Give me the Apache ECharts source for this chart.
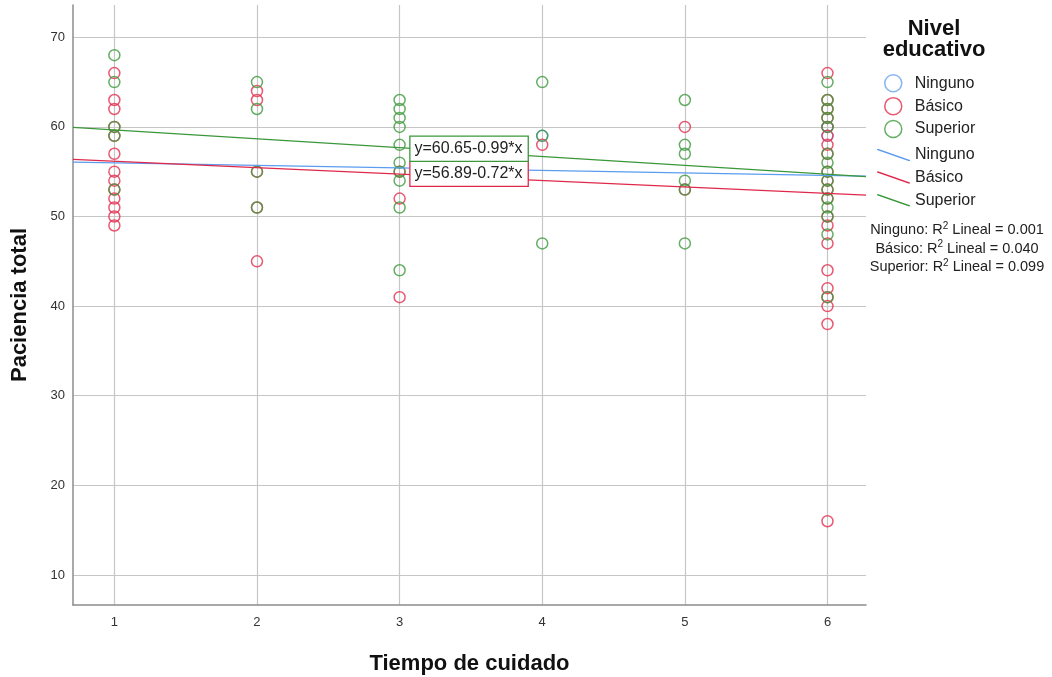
<!DOCTYPE html>
<html><head><meta charset="utf-8">
<script src="https://cdn.jsdelivr.net/npm/echarts@6/dist/echarts.min.js"></script>
<style>html,body{margin:0;padding:0;background:#fff}#c{width:1052px;height:677px}</style>
</head><body><div id="c"></div>
<script>
// ---- data ----
const groupNames = ['Ninguno', 'Básico', 'Superior'];
const xTickLabels = ['1', '2', '3', '4', '5', '6'];
const yTickLabels = ['10', '20', '30', '40', '50', '60', '70'];
const ningunoPoints = [[4,59],[6,59],[6,60]];
const basicoPoints = [
  [1,66],[1,63],[1,62],[1,60],[1,59],[1,57],[1,55],[1,54],[1,53],[1,52],[1,51],[1,50],[1,49],
  [2,64],[2,63],[2,55],[2,51],[2,45],
  [3,55],[3,52],[3,41],
  [4,58],
  [5,60],[5,53],
  [6,66],[6,63],[6,62],[6,61],[6,60],[6,59],[6,58],[6,57],[6,55],[6,54],[6,53],[6,52],[6,50],[6,49],[6,47],[6,44],[6,42],[6,41],[6,40],[6,38],[6,16]
];
const superiorPoints = [
  [1,68],[1,65],[1,60],[1,59],[1,53],
  [2,65],[2,62],[2,55],[2,51],
  [3,63],[3,62],[3,61],[3,60],[3,58],[3,56],[3,55],[3,54],[3,51],[3,44],
  [4,65],[4,59],[4,47],
  [5,63],[5,58],[5,57],[5,54],[5,53],[5,47],
  [6,65],[6,63],[6,62],[6,61],[6,60],[6,57],[6,56],[6,55],[6,54],[6,53],[6,52],[6,51],[6,50],[6,48],[6,41]
];
const fitIntercepts = [56.26, 56.89, 60.65];
const fitSlopes = [-0.28, -0.72, -0.99];
const r2Values = ['0.001', '0.040', '0.099'];

// ---- styling ----
const FONT = '"Liberation Sans", Arial, sans-serif';
const pointColors = ['#6aa3ef', '#e3304f', '#3d9a3d'];
const lineColors = ['#5b9cf0', '#e0284a', '#3a973a'];
const X_MIN = 0.71, X_MAX = 6.27, Y_MIN = 6.65, Y_MAX = 73.6;

const pointSets = [ningunoPoints, basicoPoints, superiorPoints];
const series = [];
pointSets.forEach((pts, i) => {
  series.push({
    name: groupNames[i], type: 'scatter', data: pts, symbol: 'circle', symbolSize: 11,
    itemStyle: { color: 'rgba(255,255,255,0)', borderColor: pointColors[i], borderWidth: 1.5, opacity: 0.8 },
    emphasis: { disabled: true }, z: 3
  });
});
const eqLabelCoords = [null, [3.08, 56.06], [3.08, 58.85]];
groupNames.forEach((g, i) => {
  const s = {
    name: g + ' ', type: 'line', showSymbol: false, symbol: 'none', silent: true,
    data: [[X_MIN, fitIntercepts[i] + fitSlopes[i] * X_MIN], [X_MAX, fitIntercepts[i] + fitSlopes[i] * X_MAX]],
    lineStyle: { color: lineColors[i], width: 1.3 }, itemStyle: { color: lineColors[i] }, z: 4
  };
  if (eqLabelCoords[i]) {
    const txt = 'y=' + fitIntercepts[i].toFixed(2) + (fitSlopes[i] < 0 ? '-' : '+') + Math.abs(fitSlopes[i]).toFixed(2) + '*x';
    s.markPoint = {
      symbol: 'rect', symbolSize: 1, silent: true, animation: false,
      itemStyle: { color: 'rgba(0,0,0,0)' },
      data: [{ coord: eqLabelCoords[i], value: txt }],
      label: {
        show: true, position: [0, 0], align: 'left', verticalAlign: 'top',
        formatter: txt, fontFamily: FONT, fontSize: 16, color: '#222',
        backgroundColor: '#fff', borderColor: lineColors[i], borderWidth: 1.3,
        padding: [3, 5, 3, 4], lineHeight: 18
      }
    };
  }
  series.push(s);
});

const r2Graphics = groupNames.map((g, i) => ({
  type: 'text', x: 957, y: 230 + i * 18.7, silent: true,
  style: {
    text: '{t|' + g + ': R}{s|2}{t| Lineal = ' + r2Values[i] + '}',
    align: 'center', verticalAlign: 'middle', fontFamily: FONT, fontSize: 14.5, fill: '#222',
    rich: {
      t: { fontSize: 14.5, fontFamily: FONT, fill: '#222', align: 'center' },
      s: { fontSize: 10, fontFamily: FONT, fill: '#222', align: 'center', padding: [0, 0, 8, 0] }
    }
  }
}));

const chart = echarts.init(document.getElementById('c'), null, { renderer: 'canvas' });
chart.setOption({
  animation: false,
  backgroundColor: '#fff',
  title: {
    text: 'Nivel\neducativo', left: 929, top: 13, textAlign: 'center',
    textStyle: { fontFamily: FONT, fontSize: 22, fontWeight: 'bold', color: '#111', lineHeight: 21 }
  },
  grid: { left: 73, right: 186, top: 5, bottom: 72, containLabel: false, outerBoundsMode: 'none' },
  xAxis: {
    type: 'value', min: X_MIN, max: X_MAX, minInterval: 1, maxInterval: 1,
    name: 'Tiempo de cuidado', nameLocation: 'middle', nameGap: 48,
    nameTextStyle: { fontFamily: FONT, fontSize: 22, fontWeight: 'bold', color: '#111' },
    axisLine: { show: true, onZero: false, lineStyle: { color: '#8c8c8c', width: 1.5 } },
    axisTick: { show: false },
    axisLabel: { showMinLabel: false, showMaxLabel: false, margin: 11, fontFamily: FONT, fontSize: 13, color: '#333',
      formatter: v => xTickLabels.includes(String(v)) ? String(v) : '' },
    splitLine: { show: true, showMinLine: false, showMaxLine: false, lineStyle: { color: '#c6c6c6', width: 1.2 } }
  },
  yAxis: {
    type: 'value', min: Y_MIN, max: Y_MAX, minInterval: 10, maxInterval: 10,
    name: 'Paciencia total', nameLocation: 'middle', nameGap: 42, nameRotate: 90,
    nameTextStyle: { fontFamily: FONT, fontSize: 22, fontWeight: 'bold', color: '#111' },
    axisLine: { show: true, onZero: false, lineStyle: { color: '#8c8c8c', width: 1.5 } },
    axisTick: { show: false },
    axisLabel: { showMinLabel: false, showMaxLabel: false, margin: 8, fontFamily: FONT, fontSize: 13, color: '#333',
      formatter: v => yTickLabels.includes(String(v)) ? String(v) : '' },
    splitLine: { show: true, showMinLine: false, showMaxLine: false, lineStyle: { color: '#c6c6c6', width: 1.2 } }
  },
  legend: [
    {
      orient: 'vertical', left: 879, top: 69, itemWidth: 33, itemHeight: 17, itemGap: 4.4,
      selectedMode: false, textStyle: { fontFamily: FONT, fontSize: 16, color: '#222' },
      data: groupNames.map((g, i) => ({ name: g, icon: 'circle',
        itemStyle: { color: 'rgba(255,255,255,0)', borderColor: pointColors[i], borderWidth: 1.5 } }))
    },
    {
      orient: 'vertical', left: 872, top: 142, itemWidth: 33, itemHeight: 17, itemGap: 6.6,
      selectedMode: false, textStyle: { fontFamily: FONT, fontSize: 16, color: '#222' },
      formatter: n => n.trim(),
      data: groupNames.map((g, i) => ({ name: g + ' ',
        icon: 'path://M0,0L1.6,0L33,11L33,12L31.4,12L0,1Z',
        itemStyle: { color: lineColors[i], borderWidth: 0 } }))
    }
  ],
  graphic: r2Graphics,
  series: series
});
</script></body></html>
